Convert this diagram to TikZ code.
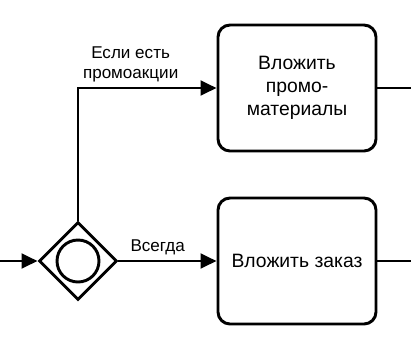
\documentclass[tikz,border=0pt]{standalone}
\usepackage{fontspec}
\setmainfont{Liberation Sans}
\usetikzlibrary{arrows.meta,shapes.geometric}

\begin{document}
\begin{tikzpicture}[x=0.75pt,y=-0.75pt,>={Triangle[length=12pt,width=11pt]},line width=2.2pt,
  task/.style={draw,rounded corners=9pt,minimum width=118.5pt,minimum height=94.5pt,
    align=center,font=\fontsize{14.5}{17}\selectfont},
  lbl/.style={font=\fontsize{12.8}{15}\selectfont,align=center}]
  \useasboundingbox (0,0) rectangle (411,355);
  \coordinate (in) at (0,261);
  \node[draw,diamond,minimum width=58.5pt,minimum height=58.5pt,inner sep=0pt] (gw) at (78,261) {};
  \node[draw,circle,minimum size=31.5pt,inner sep=0pt] (gwmark) at (gw.center) {};
  \node[task] (promo) at (297,88) {Вложить\\промо-\\материалы};
  \node[task] (order) at (297,261) {Вложить заказ};
  \coordinate (outpromo) at (411,88);
  \coordinate (outorder) at (411,261);
  \draw[->] (in) -- (gw.west);
  \draw[->] (gw.north) |- (promo.west) node[lbl,pos=.69,above]{Если есть\\промоакции};
  \draw[->] (gw.east) -- (order.west) node[lbl,pos=.4,above]{Всегда};
  \draw (promo.east) -- (outpromo);
  \draw (order.east) -- (outorder);
\end{tikzpicture}
\end{document}
